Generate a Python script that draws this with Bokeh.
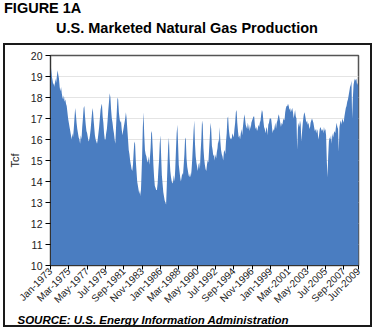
from bokeh.plotting import figure
from bokeh.layouts import column
from bokeh.models import Range1d, FixedTicker, Title, Div
from bokeh.embed import file_html
from bokeh.resources import INLINE

# Monthly U.S. marketed natural gas production (Tcf, annual rate), Jan-1973 .. Jun-2009
production = [
    19.7, 19.3, 19.0, 18.8, 18.6, 18.7, 18.5, 18.9, 18.7, 19.0, 19.3, 19.1,  # 1973
    18.9, 18.5, 18.3, 18.5, 18.2, 18.0, 17.9, 18.1, 17.8, 17.9, 17.7, 17.6,  # 1974
    17.3, 17.0, 16.8, 16.6, 16.4, 16.2, 16.0, 16.3, 16.1, 16.5, 17.0, 17.5,  # 1975
    17.2, 16.8, 16.5, 16.3, 16.1, 16.0, 15.8, 16.2, 16.0, 16.6, 17.0, 17.5,  # 1976
    17.6, 17.1, 16.7, 16.4, 16.3, 16.1, 15.9, 16.0, 16.2, 16.5, 16.9, 17.3,  # 1977
    17.5, 17.0, 16.6, 16.2, 16.0, 15.9, 15.8, 16.0, 16.3, 16.6, 17.0, 17.4,  # 1978
    17.6, 17.7, 17.1, 16.8, 16.3, 16.0, 16.0, 16.3, 16.5, 16.9, 17.4, 17.8,  # 1979
    18.2, 18.0, 17.4, 17.0, 16.8, 16.5, 16.3, 16.0, 15.8, 16.6, 17.3, 18.0,  # 1980
    17.9, 17.3, 17.0, 16.8, 16.9, 16.5, 16.2, 16.4, 16.6, 16.8, 17.0, 17.3,  # 1981
    17.0, 16.5, 16.0, 15.5, 15.3, 15.0, 14.8, 14.6, 14.5, 14.8, 15.4, 15.9,  # 1982
    15.8, 15.0, 14.5, 14.0, 13.8, 13.6, 13.4, 13.6, 13.3, 14.2, 15.2, 16.6,  # 1983
    17.3, 16.2, 15.5, 15.3, 15.2, 15.0, 14.9, 15.2, 14.8, 15.1, 15.6, 16.4,  # 1984
    16.3, 15.6, 14.8, 14.2, 13.8, 13.7, 13.6, 13.6, 13.9, 14.5, 15.0, 15.8,  # 1985
    16.2, 15.2, 14.3, 13.9, 13.5, 13.3, 13.1, 13.0, 12.9, 13.8, 14.8, 15.7,  # 1986
    16.1, 15.1, 14.5, 14.2, 14.0, 13.9, 14.0, 14.3, 14.0, 14.6, 15.5, 16.3,  # 1987
    16.7, 15.8, 14.8, 14.5, 14.2, 14.0, 14.2, 14.4, 14.3, 14.8, 15.3, 16.1,  # 1988
    16.0, 15.1, 14.7, 14.5, 14.3, 14.2, 14.4, 14.2, 14.5, 15.0, 15.7, 16.4,  # 1989
    16.9, 15.8, 15.2, 14.9, 14.7, 14.5, 14.8, 14.9, 14.6, 15.4, 16.0, 16.9,  # 1990
    16.7, 15.6, 15.1, 14.8, 14.6, 14.5, 14.8, 15.0, 14.9, 15.5, 16.1, 16.8,  # 1991
    16.5, 15.7, 15.5, 15.2, 15.3, 15.0, 15.3, 15.1, 15.4, 15.6, 16.0, 15.8,  # 1992
    16.6, 15.9, 15.5, 15.3, 15.2, 15.0, 15.4, 15.5, 15.3, 15.9, 16.3, 17.0,  # 1993
    17.1, 16.5, 16.2, 16.0, 16.1, 16.0, 16.3, 16.2, 16.1, 16.5, 16.8, 17.3,  # 1994
    17.4, 16.8, 16.4, 16.1, 16.2, 16.0, 16.3, 16.5, 16.2, 16.6, 16.9, 17.2,  # 1995
    17.0, 16.7, 16.6, 16.5, 16.8, 16.6, 16.4, 16.7, 16.5, 16.8, 16.9, 17.0,  # 1996
    17.1, 17.1, 16.7, 16.5, 16.6, 16.4, 16.5, 16.7, 16.6, 16.8, 16.9, 17.2,  # 1997
    17.4, 17.3, 16.9, 16.6, 16.5, 16.3, 16.5, 16.6, 16.2, 16.7, 16.8, 17.0,  # 1998
    17.0, 17.0, 16.7, 16.3, 16.5, 16.4, 16.6, 16.8, 16.5, 16.8, 16.9, 17.1,  # 1999
    17.2, 17.0, 16.8, 16.6, 16.8, 16.7, 16.9, 17.0, 16.9, 17.3, 17.5, 17.6,  # 2000
    17.6, 17.7, 17.6, 17.4, 17.5, 17.3, 17.4, 17.5, 17.3, 17.0, 17.2, 17.4,  # 2001
    17.1, 17.0, 15.5, 16.5, 16.8, 16.6, 16.9, 16.7, 15.9, 16.4, 16.8, 17.1,  # 2002
    17.3, 17.2, 17.0, 16.8, 16.9, 16.7, 16.8, 16.6, 16.5, 16.8, 16.9, 17.0,  # 2003
    16.9, 16.8, 16.6, 16.4, 16.5, 16.3, 16.5, 16.4, 16.0, 16.2, 16.5, 16.6,  # 2004
    16.5, 16.4, 16.5, 16.3, 16.6, 16.4, 16.5, 16.2, 15.0, 14.2, 15.2, 15.9,  # 2005
    16.1, 16.0, 16.2, 15.8, 16.3, 16.1, 16.3, 16.4, 16.3, 16.6, 16.8, 16.6,  # 2006
    16.5, 15.4, 16.6, 16.8, 16.9, 16.7, 17.0, 16.9, 16.8, 17.1, 17.3, 17.5,  # 2007
    17.6, 17.8, 17.9, 18.1, 18.3, 18.5, 18.6, 18.8, 17.0, 18.0, 18.6, 18.8,  # 2008
    18.9, 18.8, 18.9, 18.6, 18.7, 18.5,                                      # 2009
]
months = list(range(len(production)))

tick_labels = ["Jan-1973", "Mar-1975", "May-1977", "Jul-1979", "Sep-1981", "Nov-1983",
               "Jan-1986", "Mar-1988", "May-1990", "Jul-1992", "Sep-1994", "Nov-1996",
               "Jan-1999", "Mar-2001", "May-2003", "Jul-2005", "Sep-2007", "Jun-2009"]
tick_months = [0, 26, 52, 78, 104, 130, 156, 182, 208, 234, 260, 286, 312, 338, 364, 390, 416, 437]

y_ticks = [10, 11, 12, 13, 14, 15, 16, 17, 18, 19, 20]

figure_label = "FIGURE 1A"
chart_title = "U.S. Marketed Natural Gas Production"
source_note = "SOURCE: U.S. Energy Information Administration"

FONT = "Liberation Sans"

# ---- header (titles above the boxed chart) ----
head = Div(
    text=(
        '<div style="position:relative;width:375px;height:43px;'
        "font-family:'Liberation Sans',Arial,sans-serif;font-weight:bold;"
        'font-size:14.5px;line-height:normal;color:#000;">'
        f'<span style="position:absolute;left:4px;top:0px;white-space:nowrap;">{figure_label}</span>'
        f'<span style="position:absolute;left:0px;width:375px;text-align:center;top:20px;'
        f'white-space:nowrap;text-indent:-1px;">{chart_title}</span>'
        '</div>'
    ),
    width=375, height=43, margin=(0, 0, 0, 0),
)

# ---- boxed chart ----
p = figure(width=365, height=280, output_backend="svg", toolbar_location=None,
           x_range=Range1d(0, len(production) - 1), y_range=Range1d(10, 20),
           min_border_left=40, min_border_right=12, min_border_top=10, min_border_bottom=59,
           styles={"outline": "2px solid #1a1a1a", "outline-offset": "0px"})
p.margin = (2, 0, 0, 5)

p.varea(x=months, y1=10, y2=production, fill_color="#4a7dc1", fill_alpha=1.0)

p.outline_line_color = "#555555"
p.outline_line_width = 1.5
p.background_fill_color = "white"
p.border_fill_color = "white"

p.xgrid.grid_line_color = None
p.ygrid.grid_line_color = "#e4e4e4"
p.ygrid.ticker = FixedTicker(ticks=y_ticks)

p.yaxis.ticker = FixedTicker(ticks=y_ticks)
p.yaxis.axis_label = "Tcf"
p.yaxis.axis_label_text_font = FONT
p.yaxis.axis_label_text_font_style = "normal"
p.yaxis.axis_label_text_font_size = "11px"
p.yaxis.axis_label_text_color = "#222222"
p.yaxis.axis_label_standoff = 7
p.yaxis.major_label_text_font = FONT
p.yaxis.major_label_text_font_size = "10.5px"
p.yaxis.major_label_text_color = "#222222"
p.yaxis.major_tick_out = 5
p.yaxis.major_tick_in = 0
p.yaxis.minor_tick_line_color = None
p.yaxis.major_label_standoff = 3
p.yaxis.axis_line_color = "#333333"

p.xaxis.ticker = FixedTicker(ticks=tick_months)
p.xaxis.major_label_overrides = {m: lab for m, lab in zip(tick_months, tick_labels)}
p.xaxis.major_label_orientation = 0.785398
p.xaxis.major_label_text_font = FONT
p.xaxis.major_label_text_font_size = "10px"
p.xaxis.major_label_text_color = "#222222"
p.xaxis.major_tick_out = 4
p.xaxis.major_tick_in = 0
p.xaxis.minor_tick_line_color = None
p.xaxis.major_label_standoff = 0
p.xaxis.axis_line_color = "#333333"

p.add_layout(Title(text=source_note, align="left",
                   offset=-33, standoff=0, text_font=FONT, text_font_style="bold italic",
                   text_font_size="11.5px", text_color="black"), "below")

layout = column(head, p, spacing=0)
open("out.html", "w").write(file_html(layout, INLINE))
